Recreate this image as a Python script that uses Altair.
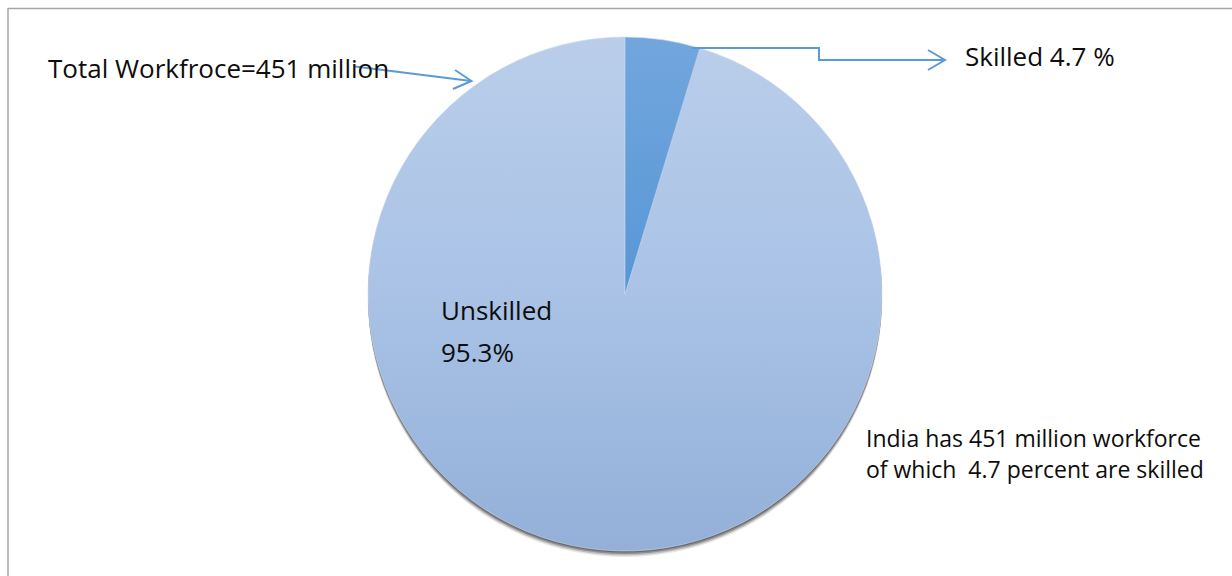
import altair as alt
import pandas as pd

# ---- data ----
categories = ["Skilled", "Unskilled"]
values = [4.7, 95.3]

label_texts = ["Total Workfroce=451 million", "Skilled 4.7 %"]
unskilled_lines = ["Unskilled", "95.3%"]
note_lines = ["India has 451 million workforce", "of which\u00a0 4.7 percent are skilled"]

# ---- layout (pixels) ----
W, H = 1232, 576
CX, CY, R = 625, 294, 257
FONT = "Open Sans"
BLUE = "#5B9BD5"

pie_df = pd.DataFrame({"category": categories, "value": values})

base = alt.Chart(pie_df).transform_joinaggregate(
    total="sum(value)"
).transform_window(
    cum="sum(value)", sort=[alt.SortField("category", order="ascending")]
).transform_calculate(
    t1="datum.cum / datum.total * 2 * PI",
    t0="(datum.cum - datum.value) / datum.total * 2 * PI",
)

def slice_layer(cat, stops):
    return base.transform_filter(alt.datum.category == cat).mark_arc(
        radius=R,
        fill=alt.Gradient(gradient="linear", stops=stops, x1=0, y1=0, x2=0, y2=1),
        stroke="#c9d8ee", strokeWidth=0.6,
    ).encode(
        theta=alt.Theta("t0:Q", scale=None),
        theta2="t1:Q",
        x=alt.value(CX), y=alt.value(CY),
    )

unskilled = slice_layer("Unskilled", [
    alt.GradientStop(color="#BACEEA", offset=0),
    alt.GradientStop(color="#A9C2E6", offset=0.5),
    alt.GradientStop(color="#94B0D8", offset=1),
])
skilled = slice_layer("Skilled", [
    alt.GradientStop(color="#72A6DD", offset=0),
    alt.GradientStop(color="#5797D6", offset=1),
])

shadow_df = pd.DataFrame({"k": [0, 1, 2, 3], "off": [6, 4.5, 3, 1.5],
                          "op": [0.15, 0.3, 0.5, 0.75]})
shadow = alt.Chart(shadow_df).mark_arc(
    radius=R, theta=0, theta2=6.2832, fill="#5e5e5e"
).encode(
    x=alt.value(CX),
    y=alt.Y("yy:Q", scale=None, stack=None),
    opacity=alt.Opacity("op:Q", scale=None),
    detail="k:N",
).transform_calculate(yy=f"{CY} + datum.off")

# frame lines
frame_df = pd.DataFrame({
    "x": [8, 8], "x2": [W, 8], "y": [8.5, 8], "y2": [8.5, H]
})
frame = alt.Chart(frame_df).mark_rule(color="#A6A6A6", strokeWidth=1.5).encode(
    x=alt.X("x:Q", scale=None), x2="x2:Q",
    y=alt.Y("y:Q", scale=None), y2="y2:Q",
)

# arrows (connector paths)
arrow_df = pd.DataFrame({
    "g": ["a"] * 2 + ["ah"] * 3 + ["b"] * 4 + ["bh"] * 3,
    "i": [0, 1] + [0, 1, 2] + [0, 1, 2, 3] + [0, 1, 2],
    "x": [355, 471, 455, 471.5, 453, 692, 819, 819, 945, 928, 945, 928],
    "y": [66.5, 81, 70, 81, 89, 48, 48, 60, 60, 50, 60, 70],
})
arrows = alt.Chart(arrow_df).mark_line(color=BLUE, strokeWidth=2).encode(
    x=alt.X("x:Q", scale=None), y=alt.Y("y:Q", scale=None),
    detail="g:N", order="i:Q",
)

text_df = pd.DataFrame({
    "t": label_texts + unskilled_lines,
    "x": [48, 965, 441, 441],
    "y": [70, 58, 312, 354],
})
texts = alt.Chart(text_df).mark_text(
    align="left", baseline="middle", font=FONT, fontSize=26, color="#0d0d0d"
).encode(
    x=alt.X("x:Q", scale=None), y=alt.Y("y:Q", scale=None), text="t:N"
)

note_df = pd.DataFrame({"t": note_lines, "x": [866, 866], "y": [440, 471]})
notes = alt.Chart(note_df).mark_text(
    align="left", baseline="middle", font=FONT, fontSize=23, color="#0d0d0d"
).encode(
    x=alt.X("x:Q", scale=None), y=alt.Y("y:Q", scale=None), text="t:N"
)

chart = alt.layer(frame, shadow, unskilled, skilled, arrows, texts, notes).properties(
    width=W, height=H, padding=0, autosize=alt.AutoSizeParams(type="none"),
    background="white",
).configure_view(stroke=None)

chart.save("out.html", embed_options={"renderer": "svg", "actions": False})
